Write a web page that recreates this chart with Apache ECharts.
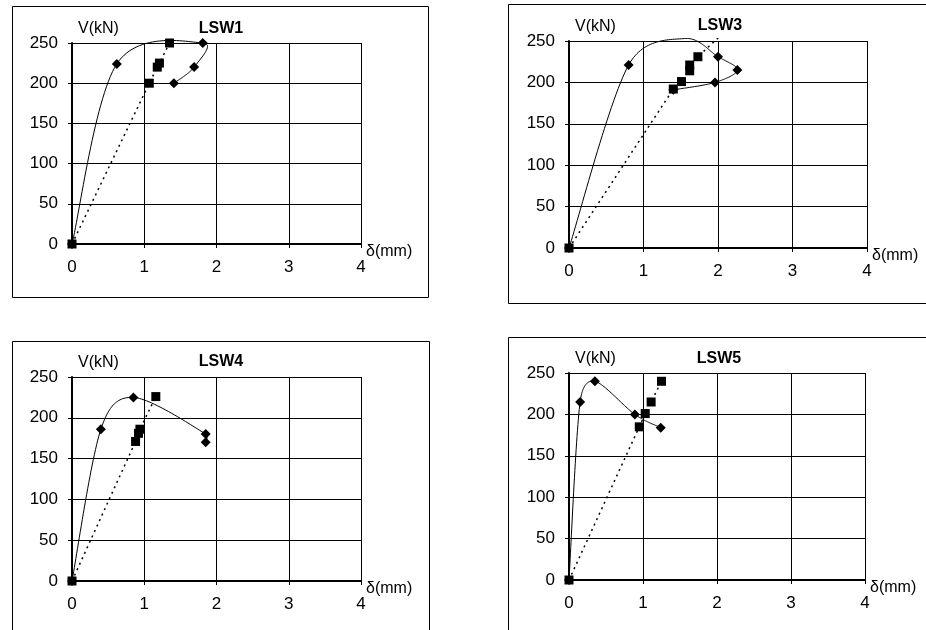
<!DOCTYPE html>
<html>
<head>
<meta charset="utf-8">
<script src="https://cdn.jsdelivr.net/npm/echarts@6/dist/echarts.min.js"></script>
<style>
html,body{margin:0;padding:0;background:#fff;}
#chart{width:926px;height:630px;}
</style>
</head>
<body>
<div id="chart"></div>
<script>
// ---- data ----
const xTicks = [0, 1, 2, 3, 4];
const yTicks = [0, 50, 100, 150, 200, 250];
const panelTitles = ['LSW1', 'LSW3', 'LSW4', 'LSW5'];

// smoothed solid curve with diamond markers (points above 250 are off-plot, no marker)
const lsw1DiamondX = [0, 0.62, 1.81, 1.69, 1.41];
const lsw1DiamondY = [0, 224, 250, 220, 200];
// dotted line with square markers
const lsw1SquareX = [0, 1.07, 1.18, 1.21, 1.35];
const lsw1SquareY = [0, 200, 220, 225, 250];

const lsw3DiamondX = [0, 0.80, 1.55, 2.00, 2.26, 1.96, 1.40];
const lsw3DiamondY = [0, 221, 253, 231, 215, 200, 191];
const lsw3SquareX = [0, 1.40, 1.51, 1.62, 1.62, 1.73, 2.10];
const lsw3SquareY = [0, 192, 201, 214, 221, 231, 262];

const lsw4DiamondX = [0, 0.40, 0.85, 1.85, 1.85];
const lsw4DiamondY = [0, 186, 225, 180, 170];
const lsw4SquareX = [0, 0.88, 0.92, 0.94, 1.16];
const lsw4SquareY = [0, 171, 181, 186, 226];

const lsw5DiamondX = [0, 0.15, 0.35, 0.89, 1.24];
const lsw5DiamondY = [0, 215, 240, 200, 184];
const lsw5SquareX = [0, 0.95, 1.03, 1.11, 1.25];
const lsw5SquareY = [0, 185, 201, 215, 240];

const diamondX = [lsw1DiamondX, lsw3DiamondX, lsw4DiamondX, lsw5DiamondX];
const diamondY = [lsw1DiamondY, lsw3DiamondY, lsw4DiamondY, lsw5DiamondY];
const squareX = [lsw1SquareX, lsw3SquareX, lsw4SquareX, lsw5SquareX];
const squareY = [lsw1SquareY, lsw3SquareY, lsw4SquareY, lsw5SquareY];

// ---- layout ----
const FONT = '"Liberation Sans", Arial, sans-serif';
const grids = [
  {left: 72, top: 43, width: 289, height: 201},
  {left: 569, top: 41, width: 298, height: 207},
  {left: 72, top: 377, width: 289, height: 204},
  {left: 569, top: 373, width: 296, height: 207}
];
const boxes = [
  {x: 12, y: 6, w: 416, h: 291},
  {x: 508, y: 4, w: 430, h: 299},
  {x: 12, y: 341, w: 417, h: 300},
  {x: 508, y: 337, w: 430, h: 300}
];
const titleCenters = [[221, 29], [720, 26], [221, 362], [719, 359]];

const pair = (xs, ys) => xs.map((x, i) => [x, ys[i]]);

// Excel-like smoothed curve through pixel points (Bezier, 1/6 tangents)
function splinePoints(p) {
  const out = [p[0]];
  const d = (a, b) => Math.hypot(a[0] - b[0], a[1] - b[1]);
  for (let i = 0; i < p.length - 1; i++) {
    const P1 = p[i], P2 = p[i + 1];
    const P0 = i > 0 ? p[i - 1] : P1;
    const P3 = i + 2 < p.length ? p[i + 2] : P2;
    const d12 = d(P1, P2), d02 = d(P0, P2), d13 = d(P1, P3);
    const f0 = d02 > 0 ? Math.min(1 / 6, d12 / (2 * d02)) : 0;
    const f1 = d13 > 0 ? Math.min(1 / 6, d12 / (2 * d13)) : 0;
    const C1 = [P1[0] + f0 * (P2[0] - P0[0]), P1[1] + f0 * (P2[1] - P0[1])];
    const C2 = [P2[0] - f1 * (P3[0] - P1[0]), P2[1] - f1 * (P3[1] - P1[1])];
    const N = 30;
    for (let k = 1; k <= N; k++) {
      const t = k / N, u = 1 - t;
      const a = u * u * u, b = 3 * u * u * t, c = 3 * u * t * t, e = t * t * t;
      out.push([a * P1[0] + b * C1[0] + c * C2[0] + e * P2[0],
                a * P1[1] + b * C1[1] + c * C2[1] + e * P2[1]]);
    }
  }
  return out;
}

function curveRenderer(xs, ys, smooth, dash, width) {
  return function (params, api) {
    if (params.dataIndex !== 0) return null;
    const pts = xs.map((x, k) => api.coord([x, ys[k]]));
    const cs = params.coordSys;
    return {
      type: 'group',
      clipPath: {type: 'rect', shape: {x: cs.x - 3, y: cs.y - 3, width: cs.width + 6, height: cs.height + 6}},
      children: [{
        type: 'polyline',
        shape: {points: smooth ? splinePoints(pts) : pts},
        style: {fill: 'none', stroke: '#000', lineWidth: width, lineDash: dash}
      }]
    };
  };
}

const xAxes = [], yAxes = [], series = [], graphics = [];
grids.forEach((g, i) => {
  xAxes.push({
    gridIndex: i, type: 'value', min: xTicks[0], max: xTicks[xTicks.length - 1], interval: 1,
    axisLine: {show: true, onZero: false, lineStyle: {color: '#000', width: 2}},
    axisTick: {show: true, length: 4, lineStyle: {color: '#000', width: 1}},
    axisLabel: {color: '#000', fontFamily: FONT, fontSize: 17, margin: 15},
    splitLine: {show: true, lineStyle: {color: '#000', width: 1}}
  });
  yAxes.push({
    gridIndex: i, type: 'value', min: yTicks[0], max: yTicks[yTicks.length - 1], interval: 50,
    axisLine: {show: true, onZero: false, lineStyle: {color: '#000', width: 2}},
    axisTick: {show: true, length: 4, lineStyle: {color: '#000', width: 1}},
    axisLabel: {color: '#000', fontFamily: FONT, fontSize: 17, margin: 14},
    splitLine: {show: true, lineStyle: {color: '#000', width: 1}}
  });
  series.push({
    type: 'custom', xAxisIndex: i, yAxisIndex: i, z: 3,
    data: pair(diamondX[i], diamondY[i]),
    renderItem: curveRenderer(diamondX[i], diamondY[i], true, null, 1),
    animation: false, silent: true
  });
  series.push({
    type: 'custom', xAxisIndex: i, yAxisIndex: i, z: 3,
    data: pair(squareX[i], squareY[i]),
    renderItem: curveRenderer(squareX[i], squareY[i], false, [2, 4], 1.5),
    animation: false, silent: true
  });
  series.push({
    type: 'scatter', xAxisIndex: i, yAxisIndex: i, z: 5,
    data: pair(diamondX[i], diamondY[i]),
    symbol: 'diamond', symbolSize: 10, clip: true,
    itemStyle: {color: '#000', opacity: 1}, animation: false
  });
  series.push({
    type: 'scatter', xAxisIndex: i, yAxisIndex: i, z: 6,
    data: pair(squareX[i], squareY[i]),
    symbol: 'rect', symbolSize: 9, clip: true,
    itemStyle: {color: '#000', opacity: 1}, animation: false
  });
  const b = boxes[i];
  graphics.push({
    type: 'rect', shape: {x: b.x + 0.5, y: b.y + 0.5, width: b.w, height: b.h},
    style: {fill: 'none', stroke: '#000', lineWidth: 1}, silent: true, z: -10
  });
  graphics.push({
    type: 'text', x: g.left + 6, y: g.top - 14,
    style: {text: 'V(kN)', fill: '#000', font: '16px ' + FONT, textAlign: 'left', textVerticalAlign: 'middle'}
  });
  graphics.push({
    type: 'text', x: g.left + g.width + 5, y: g.top + g.height + 8,
    style: {text: 'δ(mm)', fill: '#000', font: '16px ' + FONT, textAlign: 'left', textVerticalAlign: 'middle'}
  });
  graphics.push({
    type: 'text', x: titleCenters[i][0], y: titleCenters[i][1],
    style: {text: panelTitles[i], fill: '#000', font: 'bold 16px ' + FONT, textAlign: 'center', textVerticalAlign: 'middle'}
  });
});

const chart = echarts.init(document.getElementById('chart'), null, {renderer: 'canvas'});
chart.setOption({
  backgroundColor: '#fff',
  animation: false,
  grid: grids.map(g => Object.assign({show: false}, g)),
  xAxis: xAxes,
  yAxis: yAxes,
  series: series,
  graphic: graphics
});
</script>
</body>
</html>
